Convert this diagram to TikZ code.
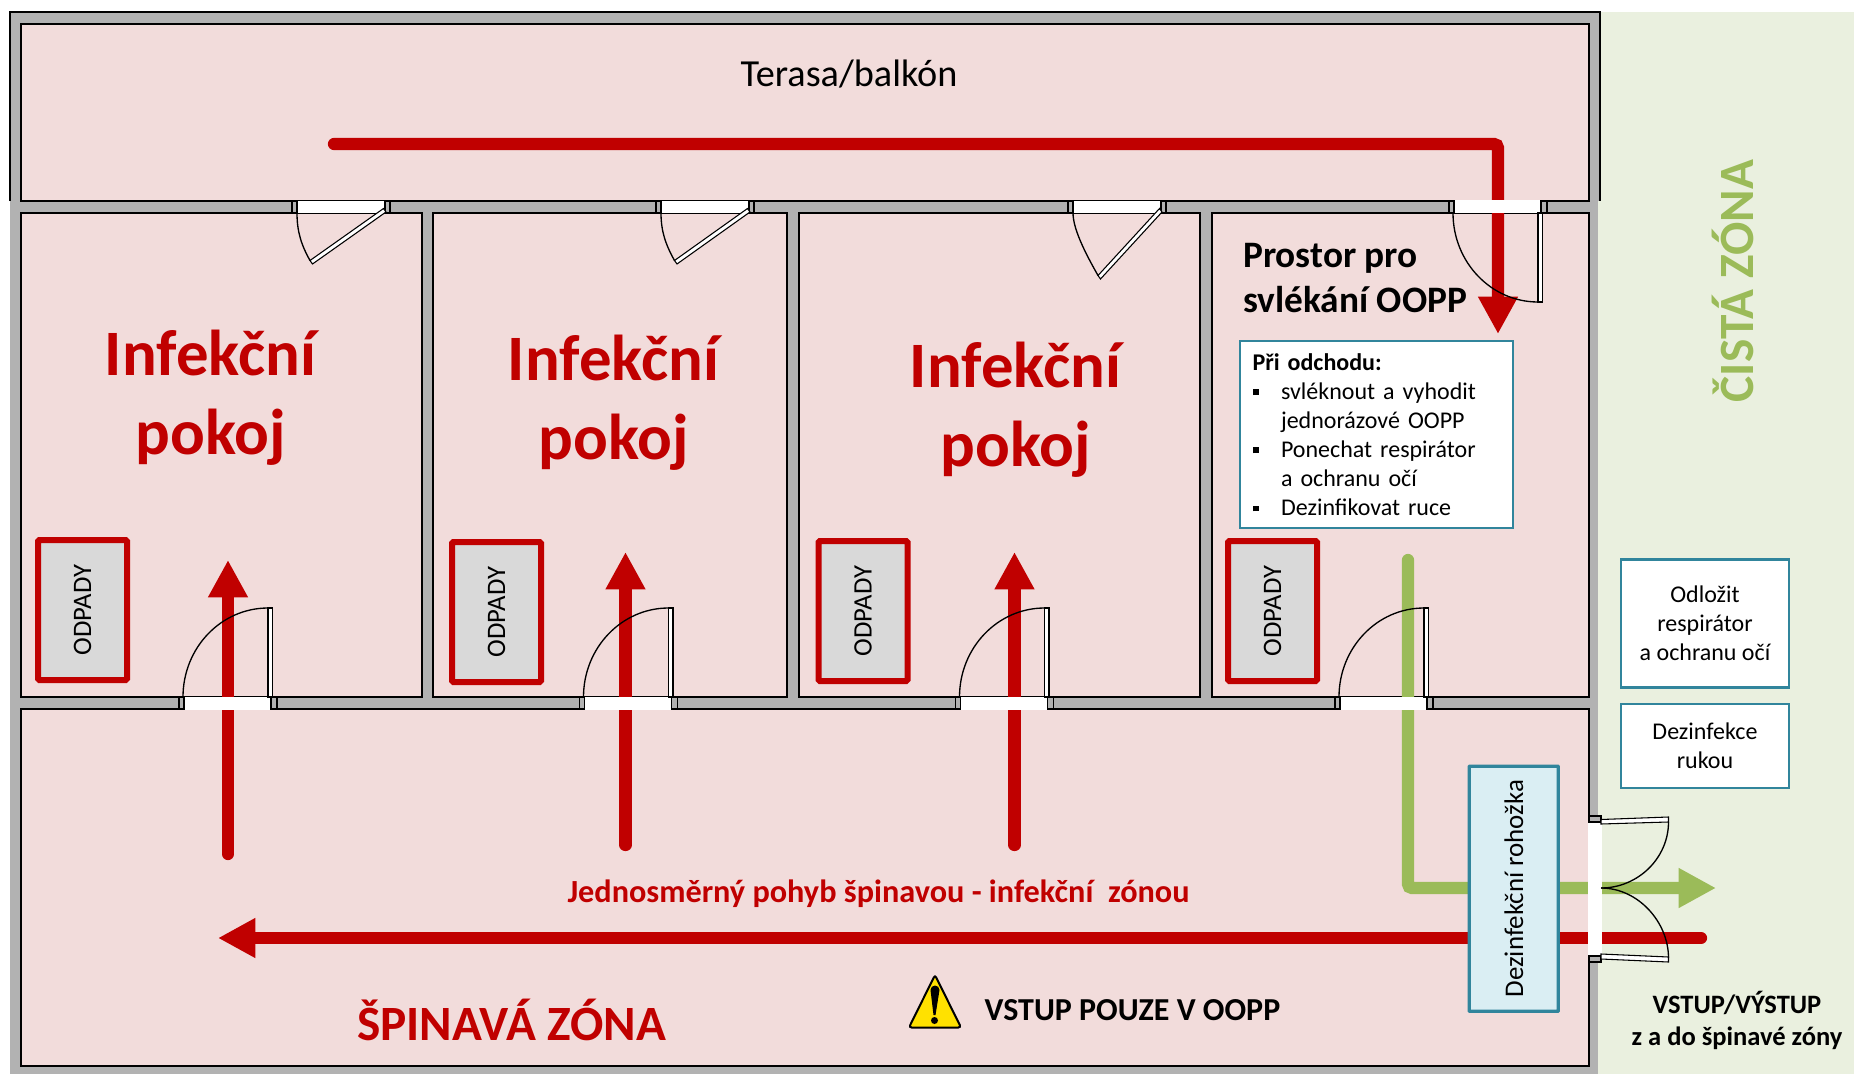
\documentclass[tikz,border=0pt]{standalone}
\usepackage{fontspec}
\setmainfont{Carlito}
\usetikzlibrary{arrows.meta,calc}
\definecolor{zonegreen}{HTML}{EAF0DF}
\definecolor{arrowgreen}{HTML}{9BBB59}
\definecolor{roompink}{HTML}{F2DCDB}
\definecolor{wallgrey}{HTML}{B2B2B2}
\definecolor{arrowred}{HTML}{C00000}
\definecolor{boxteal}{HTML}{31859C}
\definecolor{matblue}{HTML}{DAEEF3}
\definecolor{signyellow}{HTML}{FFE100}
\tikzset{
	room/.style={draw=black, line width=1.1pt, fill=roompink},
	flow/.style={-{Triangle[length=28pt,width=28pt]}, line width=9.2pt, line cap=round, rounded corners=3pt},
	wastebox/.style={draw=arrowred, line width=4.5pt, fill=black!15, rounded corners=1pt, inner sep=0pt, rotate=90, minimum width=105pt, minimum height=66.75pt, font=\fontsize{20}{24}\selectfont},
	notebox/.style={draw=boxteal, line width=1.8pt, fill=white, inner sep=0pt, align=center, font=\fontsize{18}{21.8}\selectfont},
	roomlabel/.style={text=arrowred, align=center, font=\fontsize{48.6}{59}\selectfont\bfseries},
	gap/.style={fill=white, draw=none},
	leaf/.style={draw=black, line width=0.8pt, fill=white},
	swing/.style={draw=black, line width=1pt},
	jamb/.style={draw=black, line width=0.8pt, fill=wallgrey},
	% door with a straight leaf, the origin is the left jamb on the side of the leaf's far end
	doorup/.pic={
		\fill[gap] (5,-12) rectangle (92,1);
		\draw[jamb] (0,-12) rectangle (5,0);
		\draw[jamb] (92,-12) rectangle (98,0);
		\draw[leaf] (89,-12) rectangle (93.5,-101);
		\draw[swing] (4,-12) arc[start angle=180, end angle=270, x radius=85, y radius=89];
	},
	% door with a slanted leaf, the argument is the far end of the leaf
	doorlean/.pic={
		\fill[gap] (5,0) rectangle (93,12);
		\draw[jamb] (0,0) rectangle (5,12);
		\draw[jamb] (93,0) rectangle (98,12);
		\draw[leaf] (94,11) -- (#1) -- ++(-2.5,-3.5) -- (91.5,7.5) -- cycle;
		\draw[swing] (5,12) .. controls +(0,18) and +(-9,-16) .. ($(#1)+(-2.5,-3.5)$);
	},
}
\begin{document}
\begin{tikzpicture}[x=0.75pt, y=-0.75pt]
	\useasboundingbox (0,0) rectangle (1854,1074);

	% Zones
	\fill[zonegreen] (1598,12) rectangle (1854,1074);
	\fill[wallgrey] (10,12) rectangle (1598,1074);
	\fill[wallgrey] (1598,12) rectangle (1600,201);
	\draw[black, line width=1.1pt] (10,201) -- (10,12) -- (1600,12) -- (1600,201);

	% Rooms
	\draw[room] (21,24) rectangle (1589,201);
	\draw[room] (21,213) rectangle (422,697);
	\draw[room] (433,213) rectangle (787,697);
	\draw[room] (799,213) rectangle (1200,697);
	\draw[room] (1212,213) rectangle (1589,697);
	\draw[room] (21,709) rectangle (1589,1066);

	% Waste boxes
	\node[wastebox] (waste1) at (82.5,610) {ODPADY};
	\node[wastebox] (waste2) at (496.5,612) {ODPADY};
	\node[wastebox] (waste3) at (863,611) {ODPADY};
	\node[wastebox] (waste4) at (1272.5,611) {ODPADY};

	% Flow arrows
	\draw[flow, arrowred] (334,144) -- (1498,144) -- (1498,334);
	\draw[flow, arrowred] (228,854) -- (228,560);
	\draw[flow, arrowred] (625.5,845) -- (625.5,552);
	\draw[flow, arrowred] (1014.5,845) -- (1014.5,552);
	\draw[flow, arrowred] (1701,938) -- (218,938);
	\draw[flow, arrowgreen] (1408,560) -- (1408,888) -- (1716,888);

	% Doors to the terrace
	\pic at (292,201) {doorlean={20.5,63}};
	\pic at (656,201) {doorlean={21,63}};
	\pic at (1068,201) {doorlean={32.5,78}};
	\pic[yscale=-1] at (1449,201) {doorup};

	% Doors to the rooms
	\pic at (179,709) {doorup};
	\pic at (579.5,709) {doorup};
	\pic at (955.5,709) {doorup};
	\pic at (1335,709) {doorup};

	% Double door
	\fill[gap] (1588,822) rectangle (1601.5,957);
	\draw[jamb] (1589,816) rectangle (1601,822);
	\draw[jamb] (1589,956) rectangle (1601,962);
	\draw[leaf] (1601,819.5) -- (1668.5,817) -- (1668.5,822) -- (1601,824) -- cycle;
	\draw[leaf] (1601,954) -- (1668.5,957) -- (1668.5,962) -- (1601,959) -- cycle;
	\draw[swing] (1668.5,822) .. controls (1668.5,858) and (1638,888) .. (1601,888);
	\draw[swing] (1601,888) .. controls (1638,888) and (1668.5,922) .. (1668.5,958);

	% Disinfection mat
	\node[draw=boxteal, line width=2.6pt, fill=matblue, rounded corners=0.5pt, inner sep=0pt, rotate=90, minimum width=183.75pt, minimum height=66.75pt, font=\fontsize{20.2}{24}\selectfont] (mat) at (1513.75,888.75) {Dezinfekční rohožka};

	% Room labels
	\node[font=\fontsize{28.7}{34}\selectfont] (terrace) at (849,74) {Terasa/balkón};
	\node[roomlabel] (infect1) at (210.5,398) {Infekční\\pokoj};
	\node[roomlabel] (infect2) at (613.5,403) {Infekční\\pokoj};
	\node[roomlabel] (infect3) at (1015.5,410) {Infekční\\pokoj};
	\node[anchor=west, align=left, font=\fontsize{28}{34}\selectfont\bfseries] (undress) at (1238.5,278) {Prostor pro\\svlékání OOPP};

	% Instruction boxes
	\node[notebox, minimum width=204.5pt, minimum height=140pt, text width=186pt, align=left] (leaving) at (1376.5,434.5) {%
		\textbf{Při odchodu:}\\
		\makebox[21.4pt][l]{\rule[3pt]{4.5pt}{4.5pt}}svléknout a vyhodit\\
		\hspace*{21.4pt}jednorázové OOPP\\
		\makebox[21.4pt][l]{\rule[3pt]{4.5pt}{4.5pt}}Ponechat respirátor\\
		\hspace*{21.4pt}a ochranu očí\\
		\makebox[21.4pt][l]{\rule[3pt]{4.5pt}{4.5pt}}Dezinfikovat ruce};
	\node[notebox, minimum width=126pt, minimum height=96pt] (mask) at (1705,623.5) {Odložit\\respirátor\\a ochranu očí};
	\node[notebox, minimum width=126pt, minimum height=63pt] (hands) at (1705,746) {Dezinfekce\\rukou};

	% Zone labels
	\node[rotate=90, text=arrowgreen, font=\fontsize{37}{44}\selectfont\bfseries] (cleanzone) at (1733,281) {ČISTÁ ZÓNA};
	\node[text=arrowred, font=\fontsize{37}{44}\selectfont\bfseries] (dirtyzone) at (511.5,1020) {ŠPINAVÁ ZÓNA};
	\node[text=arrowred, font=\fontsize{24.2}{29}\selectfont\bfseries] (oneway) at (878.5,894) {Jednosměrný pohyb špinavou - infekční\ \ zónou};
	\node[font=\fontsize{24}{29}\selectfont\bfseries] (warning) at (1132.5,1010) {VSTUP POUZE V OOPP};
	\node[align=center, font=\fontsize{19.9}{24}\selectfont\bfseries] (entry) at (1737,1020) {VSTUP/VÝSTUP\\z a do špinavé zóny};

	% Warning sign
	\draw[fill=signyellow, line width=1.5pt, rounded corners=2pt] (935,975) -- (961,1027.5) -- (909,1027.5) -- cycle;
	\fill[black] (930.5,990) arc[start angle=180, end angle=360, radius=4.5] -- (935.5,1015) -- (933.5,1015) -- cycle;
	\fill[black] (934.5,1020.5) circle[radius=3.5];
\end{tikzpicture}
\end{document}
